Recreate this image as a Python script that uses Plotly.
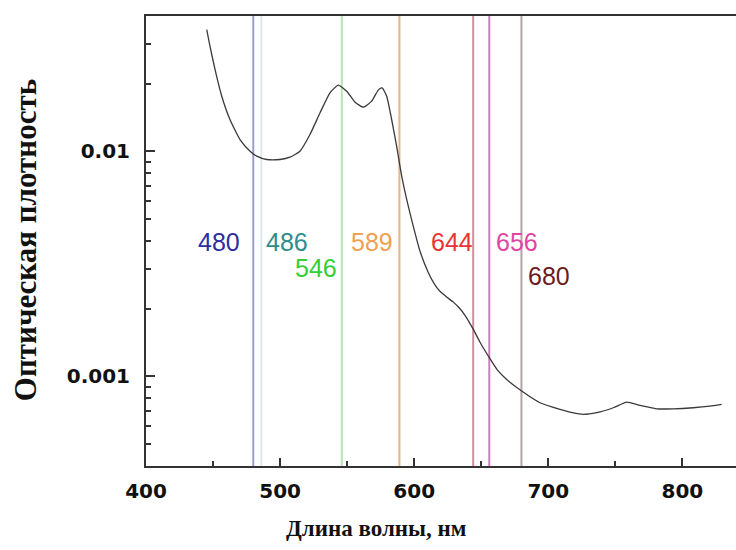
import plotly.graph_objects as go
import numpy as np

# Spectrum (wavelength, nm) vs optical density
wavelength = [445.3, 447.7, 451.5, 456.5, 462.6, 470.1, 477.6, 482.6, 490.0, 499.9,
              507.4, 514.8, 522.3, 529.8, 537.2, 543.4, 549.7, 555.9, 562.0, 568.3,
              573.2, 576.1, 579.5, 583.2, 586.9, 590.7, 594.4, 599.3, 604.3, 610.5,
              615.0, 619.2, 624.0, 629.2, 633.5, 637.9, 644.1, 649.1, 656.5, 662.0,
              669.0, 680.2, 693.8, 708.7, 718.0, 726.1, 736.1, 748.5, 758.5, 768.4,
              780.8, 793.2, 808.1, 820.6, 829.3]
density = [0.0348, 0.0294, 0.0231, 0.0176, 0.01387, 0.01130, 0.01003, 0.00953, 0.00921, 0.00921,
           0.00943, 0.01003, 0.01190, 0.01486, 0.01823, 0.01971, 0.01853, 0.01656, 0.01573, 0.01673,
           0.01873, 0.01915, 0.01761, 0.01387, 0.01056, 0.00777, 0.00612, 0.00466, 0.00361, 0.00290,
           0.00258, 0.00239, 0.00226, 0.00214, 0.00202, 0.00187, 0.00162, 0.00142, 0.00120, 0.00107,
           0.000970, 0.000861, 0.000764, 0.000714, 0.000690, 0.000678, 0.000690, 0.000726, 0.000769, 0.000743,
           0.000718, 0.000718, 0.000726, 0.000738, 0.000751]

# Spectral lines
line_nm = [480, 486, 546, 589, 644, 656, 680]
line_colors = ["#9c9ecb", "#dde9ec", "#b5e3b5", "#e2b685", "#d58a9c", "#d679bd", "#b3a5a5"]
label_colors = ["#2e2e9e", "#2f8c8c", "#33d033", "#f0a050", "#e83434", "#e244a4", "#6b1c1c"]
label_text = ["480", "486", "546", "589", "644", "656", "680"]
label_x = [454.4, 504.9, 526.8, 568.8, 628.0, 676.4, 700.7]
label_y = [0.00395, 0.00395, 0.00304, 0.00395, 0.00395, 0.00397, 0.00281]

x_ticks = [400, 500, 600, 700, 800]
x_minor = [450, 550, 650, 750]
y_ticks = [0.001, 0.01]
y_tick_text = ["0.001", "0.01"]
y_minor = [0.0004, 0.0005, 0.0006, 0.0007, 0.0008, 0.0009,
           0.002, 0.003, 0.004, 0.005, 0.006, 0.007, 0.008, 0.009,
           0.02, 0.03, 0.04]

fig = go.Figure()

for nm, c in zip(line_nm, line_colors):
    fig.add_shape(type="line", x0=nm, x1=nm, y0=0, y1=1, xref="x", yref="paper",
                  line=dict(color=c, width=2), layer="below")

fig.add_trace(go.Scatter(x=wavelength, y=density, mode="lines",
                         line=dict(color="#3a3a3a", width=1.3, shape="spline", smoothing=0.5),
                         showlegend=False, hoverinfo="skip"))

for t, xv, yv, c in zip(label_text, label_x, label_y, label_colors):
    fig.add_annotation(x=xv, y=np.log10(yv), text=t, showarrow=False,
                       font=dict(family="Liberation Sans, Arial", size=25, color=c),
                       xanchor="center", yanchor="middle")

fig.add_annotation(x=0.39, y=-0.138, xref="paper", yref="paper",
                   text="<b>Длина волны, нм</b>", showarrow=False,
                   font=dict(family="Liberation Serif, Times New Roman", size=23, color="#111"),
                   xanchor="center", yanchor="middle")
fig.add_annotation(x=-0.205, y=0.502, xref="paper", yref="paper",
                   text="<b>Оптическая плотность</b>", showarrow=False, textangle=-90,
                   font=dict(family="Liberation Serif, Times New Roman", size=31, color="#111"),
                   xanchor="center", yanchor="middle")

tickfont = dict(family="DejaVu Sans", size=20, color="#111", weight="bold")
fig.update_layout(
    width=736, height=550,
    margin=dict(l=146, r=0, t=16, b=84),
    paper_bgcolor="white", plot_bgcolor="white",
    showlegend=False,
    xaxis=dict(range=[400, 840], tickvals=x_ticks, ticks="inside", ticklen=8, tickwidth=2,
               tickcolor="#333", showline=True, linecolor="#333", linewidth=2, mirror=True,
               showgrid=False, zeroline=False, tickfont=tickfont, ticklabelstandoff=6,
               minor=dict(tickvals=x_minor, ticks="inside", ticklen=5, tickwidth=2, tickcolor="#333")),
    yaxis=dict(type="log", range=[np.log10(0.0004), np.log10(0.04)], tickvals=y_ticks,
               ticktext=y_tick_text, ticks="inside", ticklen=9, tickwidth=2, tickcolor="#333",
               showline=True, linecolor="#333", linewidth=2, mirror=False, showgrid=False,
               zeroline=False, tickfont=tickfont, ticklabelstandoff=10,
               minor=dict(tickvals=y_minor, ticks="inside", ticklen=5, tickwidth=1.5, tickcolor="#333")),
)

fig.write_html("out.html")
